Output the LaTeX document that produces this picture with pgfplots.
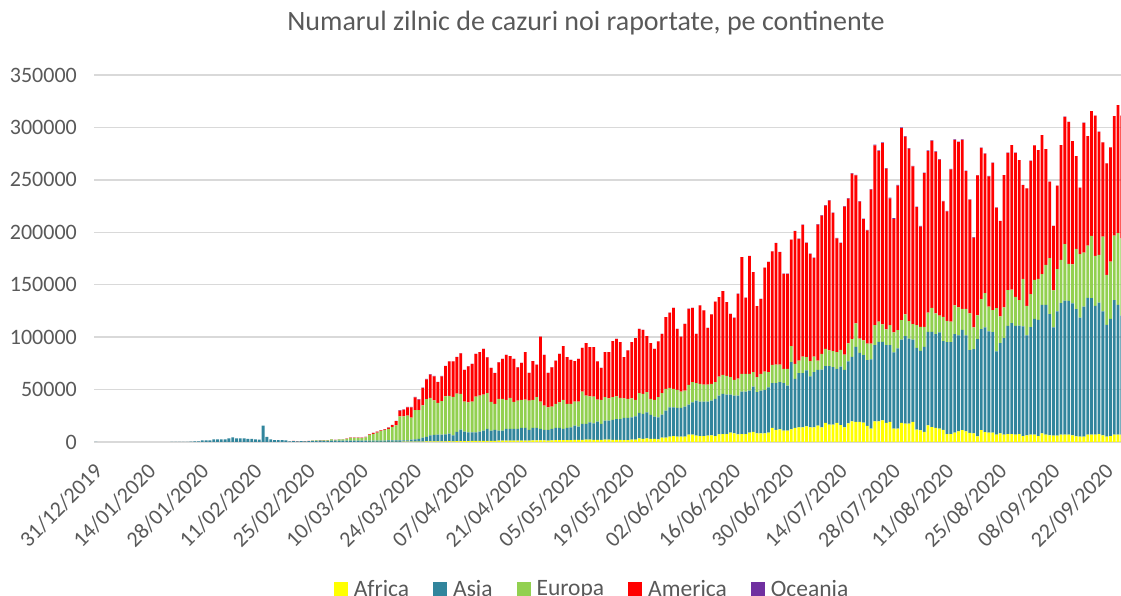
\documentclass[border=0pt]{standalone}
\usepackage{fontspec}
\setmainfont{Carlito}
\usepackage{pgfplots}
\usepackage{pgfplotstable}
\pgfplotsset{compat=1.18}
\definecolor{afr}{RGB}{255,255,0}
\definecolor{asi}{RGB}{49,133,156}
\definecolor{eur}{RGB}{146,208,80}
\definecolor{ame}{RGB}{255,0,0}
\definecolor{oce}{RGB}{112,48,160}
\definecolor{txt}{RGB}{89,89,89}
\definecolor{grd}{RGB}{217,217,217}

\pgfplotstableread{
d Af As Eu Am Oc
0 0 27 0 0 0
20 0 136 0 0 0
21 0 19 0 0 0
22 0 151 0 0 0
23 0 140 0 0 0
24 0 97 0 0 0
25 0 300 0 0 0
26 0 500 0 0 0
27 0 700 0 0 0
28 0 1600 0 0 0
29 0 1600 0 0 0
30 0 1600 0 0 0
31 0 2500 0 0 0
32 0 2500 0 0 0
33 0 2500 0 0 0
34 0 2500 0 0 0
35 0 3500 0 0 0
36 0 4500 0 0 0
37 0 3500 0 0 0
38 0 3500 0 0 0
39 0 3500 0 0 0
40 0 2900 0 0 0
41 0 2900 0 0 0
42 0 2500 0 0 0
43 0 2200 0 0 0
44 0 15600 0 0 0
45 0 4800 0 0 0
46 0 2500 0 0 0
47 0 1900 0 0 0
48 0 1900 0 0 0
49 0 1900 0 0 0
50 0 1600 0 0 0
51 0 600 0 100 0
52 0 900 0 100 0
53 0 700 0 100 0
54 0 800 50 100 0
55 0 600 100 100 0
56 0 800 150 100 0
57 0 1000 250 150 0
58 0 1100 400 150 0
59 0 1200 350 150 0
60 0 1100 450 150 0
61 0 1100 450 150 0
62 0 1400 1000 100 10
63 0 1200 650 100 10
64 0 1400 1000 100 10
65 0 1300 1100 100 10
66 0 1400 1600 150 10
67 0 1400 2500 200 20
68 0 1300 2600 200 20
69 0 1300 2600 200 30
70 0 1200 2600 300 30
71 0 1200 3300 300 40
72 20 1200 5500 600 50
73 30 1200 6600 800 50
74 50 1300 7600 950 80
75 50 1250 9200 600 80
76 80 1300 9900 800 100
77 100 1400 11000 1200 150
78 150 1450 12700 1900 200
79 200 1400 14300 4100 200
80 200 1400 22900 5500 300
81 250 1350 22900 6400 300
82 300 1300 23600 7800 400
83 300 1900 21100 9700 400
84 400 2100 27800 12300 400
85 400 2500 27400 10100 400
86 400 3700 30900 16500 400
87 500 4300 36000 19000 400
88 500 5900 35600 22300 400
89 500 6200 33100 22900 300
90 600 6400 30300 19700 300
91 600 6400 31900 23800 300
92 700 6600 36300 28800 200
93 800 7200 36000 32800 200
94 700 5700 36600 33800 200
95 800 8800 36600 34800 200
96 900 10900 34100 38700 100
97 900 9000 28600 30200 100
98 900 8300 28700 34300 100
99 1000 8200 29300 35900 100
100 1000 8200 34100 40700 100
101 1100 8800 34400 41300 100
102 1100 9700 34400 43600 100
103 1100 11300 34100 34300 100
104 1000 9800 27400 32400 100
105 1000 10500 24800 29500 100
106 1200 9600 30300 34950 50
107 1200 9600 30300 38150 50
108 1300 11100 27700 42950 50
109 1300 11100 29600 39850 50
110 1300 11100 25800 41050 50
111 1200 11200 27100 31750 50
112 1400 12000 26700 35350 50
113 1400 12000 27000 45250 50
114 1300 10200 28000 26370 30
115 1500 11900 26700 36970 30
116 1500 11900 29300 31170 30
117 1500 10900 26100 62070 30
118 1500 10000 23200 48370 30
119 1400 10100 21600 32770 30
120 1600 10800 21400 37470 30
121 1700 11700 22900 41370 30
122 1800 11600 24500 46170 30
123 1800 10600 27700 51270 30
124 1800 11600 22900 44570 30
125 1900 12100 22300 42070 30
126 2000 13600 22900 38570 30
127 2000 12600 23900 40770 30
128 2100 15100 30900 41670 30
129 2200 15000 27100 49970 30
130 2200 16600 24800 46870 30
131 2100 15700 25500 47170 30
132 2000 17400 21000 36370 30
133 2000 15200 22900 30570 30
134 2200 18200 22300 42970 30
135 2200 18200 21300 43970 30
136 2000 19000 21700 53470 30
137 2000 19700 21900 54770 30
138 2000 19700 20300 53170 30
139 1900 21000 18800 39170 30
140 1900 21000 18200 46170 30
141 2200 21400 18100 53470 30
142 2200 22300 15600 58970 30
143 3500 24200 18800 61470 30
144 2900 23900 19100 61070 30
145 3500 24800 19200 53470 30
146 2900 22900 15300 53170 30
147 2900 21300 15900 48770 30
148 2500 21100 19100 53170 30
149 4100 22000 20400 56670 30
150 4100 25800 20700 68470 30
151 5100 28000 18500 71670 30
152 5700 27400 17500 77370 30
153 5100 27400 17200 58270 30
154 5100 27400 15600 52470 30
155 5100 28700 15200 63670 30
156 7000 28700 18800 72570 30
157 7000 30900 19100 70970 30
158 6100 33400 16600 47070 30
159 5700 32800 16900 74870 30
160 5700 32800 16300 70670 30
161 6100 32400 16300 54070 30
162 6400 33100 15900 66270 30
163 5700 35400 15900 76770 30
164 7300 37000 18100 75770 30
165 7600 38300 18100 79970 30
166 7600 37600 17800 70470 30
167 8900 36300 16600 60470 30
168 8300 36000 14900 59270 30
169 7200 37100 16200 80870 30
170 7600 40500 16900 111370 30
171 7600 40500 16900 72570 30
172 8900 40100 16000 112370 30
173 9600 43300 13700 95470 30
174 8300 39200 14300 67770 30
175 8300 40700 16000 71570 30
176 8300 41400 17500 99070 30
177 8900 43300 14400 105070 30
178 13400 42700 17500 108270 30
179 11500 44600 17800 115870 30
180 12100 44900 16900 107250 50
181 10800 45300 13700 90600 100
182 10800 43000 16000 90600 100
183 12100 64000 15300 101500 100
184 13400 46800 14300 126600 200
185 14000 51600 12100 116100 200
186 14000 51600 15900 125600 200
187 15000 53200 12700 109000 200
188 14000 48700 14400 102300 200
189 14000 52600 14900 94000 300
190 15600 53200 8900 129700 300
191 14000 55100 15000 131900 300
192 18200 54100 16600 136600 300
193 16600 55700 15000 142900 400
194 16600 54700 15300 131800 400
195 18200 51600 15900 108500 400
196 16200 55800 15900 101800 400
197 14000 54800 14600 141100 400
198 17700 59300 17000 138200 400
199 19700 61500 16800 157900 500
200 19100 71700 22300 141200 500
201 19100 65900 13700 130500 500
202 18500 64300 14200 115500 500
203 15300 62700 15900 107800 500
204 12700 66000 15200 146700 500
205 19700 72700 19100 171400 600
206 19700 75900 19100 162700 600
207 20700 74900 16500 173000 600
208 18200 74200 14900 153300 600
209 19100 73300 19100 120900 600
210 12700 72700 19100 108300 600
211 12700 76500 17500 137900 600
212 18200 79500 18600 183100 600
213 17500 83400 20800 169500 600
214 17500 81200 16600 164400 600
215 19100 78600 14800 150300 600
216 11800 78000 21700 112500 500
217 11100 75800 23000 95600 500
218 9600 81200 19100 146400 500
219 15900 89200 18200 154200 500
220 14300 90800 22900 159100 500
221 13400 89500 19700 154000 500
222 12700 91800 15900 148900 500
223 11500 84700 23200 110100 500
224 7600 87700 20300 104300 400
225 7600 87700 19600 145100 400
226 8900 94000 27300 158000 400
227 10200 91400 26700 157700 400
228 11400 95600 20000 161200 400
229 10200 91400 25400 131400 400
230 8600 79000 35000 108600 300
231 8300 80300 20600 85800 300
232 5400 92700 22600 133600 300
233 11400 96200 28600 144200 300
234 9500 99700 32700 133100 300
235 8900 96500 23800 124200 300
236 8900 95900 20900 140400 300
237 7000 79400 41200 96000 200
238 8300 86000 25400 90900 200
239 7000 92100 29200 126100 200
240 7600 103200 34000 130900 200
241 7600 105700 32100 137600 200
242 7000 103800 27600 137300 200
243 7600 103500 24200 133400 200
244 5700 104500 45400 89300 200
245 6400 95200 28300 111900 100
246 7000 102500 31500 127200 100
247 7000 110500 37100 128200 100
248 5700 110800 39100 122700 100
249 8300 122500 29200 132600 100
250 7000 123800 38100 110400 100
251 6400 115500 53400 72900 100
252 6100 103100 35300 61500 100
253 6100 118400 40300 79600 100
254 7000 125400 41300 109400 100
255 7000 127900 53700 121500 100
256 7000 127600 35300 135400 100
257 6400 125700 37400 117400 100
258 5400 121300 57500 88400 100
259 5100 113600 60400 63400 100
260 5100 124100 51500 123750 50
261 7000 130500 49800 104450 50
262 7000 130200 59300 119050 50
263 7000 122900 47600 133650 50
264 7600 125400 45400 117450 50
265 6400 118100 71400 89850 50
266 5100 106700 47600 106250 50
267 5700 111800 54600 108850 50
268 7000 128300 61600 113850 50
269 7000 123800 68300 122150 50
270 7000 113600 73700 116850 50
}\data

\begin{document}
\begin{tikzpicture}
\path[use as bounding box] (0,0) rectangle (1121pt,596pt);
\clip (0,0) rectangle (1121pt,596pt);
\node[text=txt, font=\fontsize{28}{32}\selectfont, anchor=center] at (586pt,573pt) {Numarul zilnic de cazuri noi raportate, pe continente};
\begin{axis}[
  at={(94pt,154pt)}, anchor=south west,
  scale only axis, width=1035.5pt, height=367pt,
  xmin=-0.5, xmax=272, ymin=0, ymax=350000,
  ybar stacked, bar width=0.74,
  axis line style={draw=none},
  tick style={draw=none},
  ymajorgrids, grid style={grd, line width=1.3pt},
  ytick={0,50000,...,350000},
  scaled y ticks=false,
  /pgf/number format/fixed,
  /pgf/number format/1000 sep={},
  /pgf/number format/assume math mode=true,
  yticklabel style={text=txt, font=\fontsize{22}{26}\selectfont, anchor=east, inner sep=0pt, xshift=-17pt},
  xtick={0,14,...,266},
  xticklabels={31/12/2019,14/01/2020,28/01/2020,11/02/2020,25/02/2020,10/03/2020,24/03/2020,07/04/2020,21/04/2020,05/05/2020,19/05/2020,02/06/2020,16/06/2020,30/06/2020,14/07/2020,28/07/2020,11/08/2020,25/08/2020,08/09/2020,22/09/2020},
  xticklabel style={xshift=-3pt, yshift=-20pt, rotate=45, anchor=north east, inner sep=0pt, text=txt, font=\fontsize{22}{26}\selectfont},
  legend style={at={(0.481,-0.40)}, anchor=center, draw=none, fill=none, legend columns=-1,
    font=\fontsize{23.5}{27}\selectfont, text=txt,
    /tikz/every even column/.append style={column sep=22pt}},
  legend image code/.code={\fill[#1] (0pt,-7pt) rectangle (14pt,7pt); \path (18pt,0pt);},
]
\addplot[fill=afr, draw=none] table[x=d, y=Af] {\data};
\addlegendentry{Africa}
\addplot[fill=asi, draw=none] table[x=d, y=As] {\data};
\addlegendentry{Asia}
\addplot[fill=eur, draw=none] table[x=d, y=Eu] {\data};
\addlegendentry{Europa}
\addplot[fill=ame, draw=none] table[x=d, y=Am] {\data};
\addlegendentry{America}
\addplot[fill=oce, draw=none] table[x=d, y=Oc] {\data};
\addlegendentry{Oceania}
\end{axis}
\end{tikzpicture}
\end{document}
